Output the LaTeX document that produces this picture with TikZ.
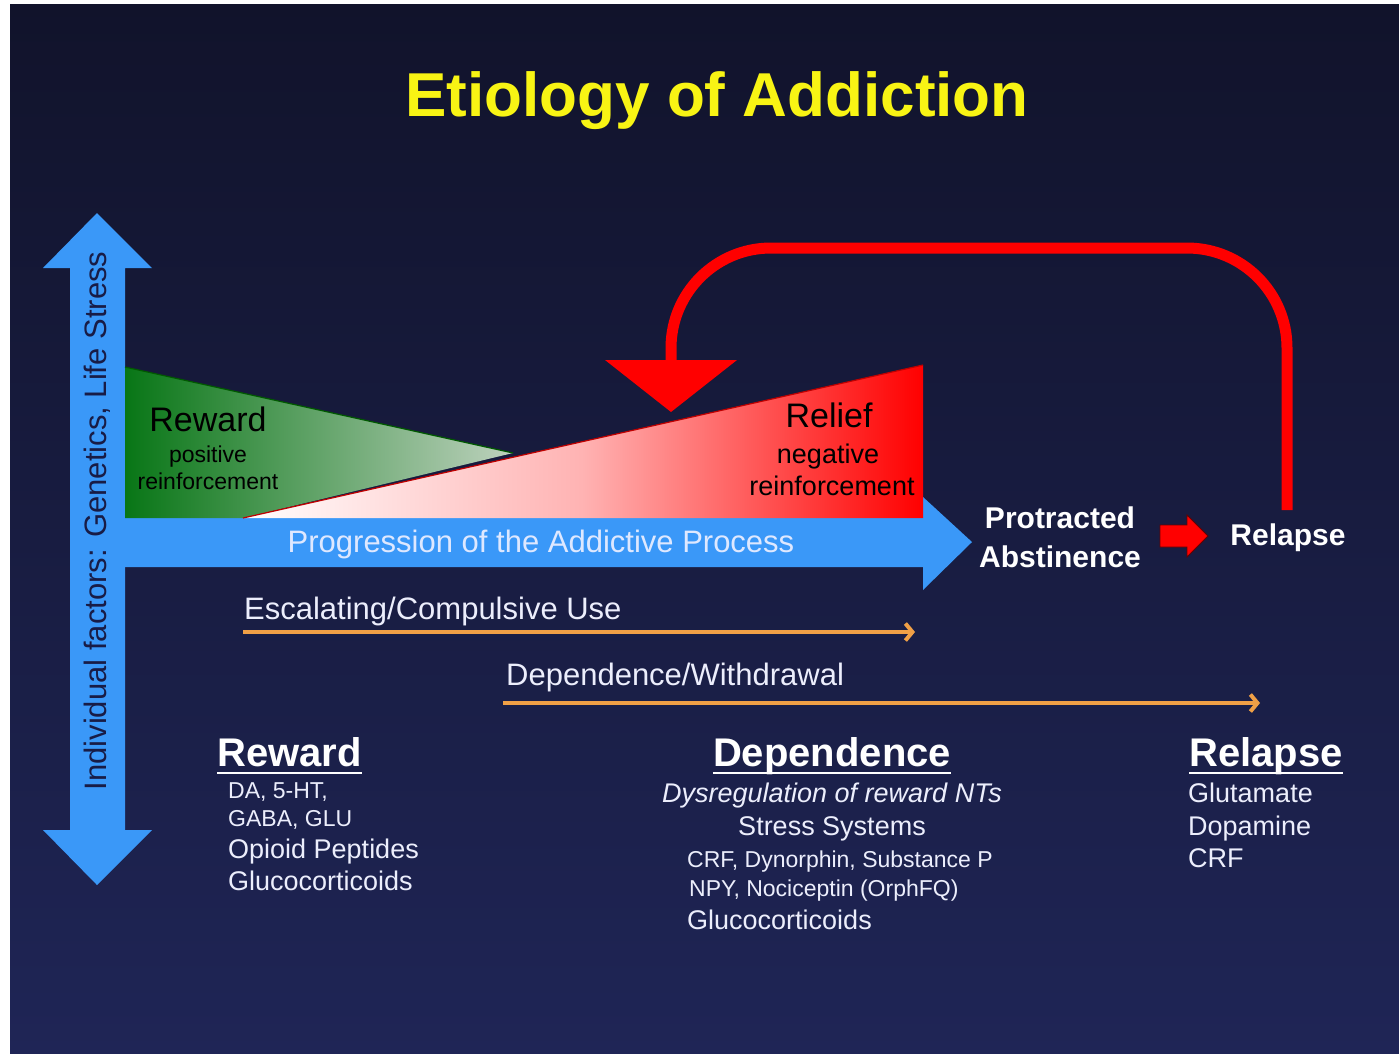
\documentclass[tikz,border=0pt]{standalone}
\usepackage{fontspec}
\setmainfont{Liberation Sans}
\usetikzlibrary{arrows.meta}

\definecolor{slidetop}{RGB}{17,19,43}
\definecolor{slidebot}{RGB}{31,37,86}
\definecolor{axisblue}{RGB}{58,152,248}
\definecolor{titleyellow}{RGB}{248,244,20}
\definecolor{orangeline}{RGB}{240,160,70}
\definecolor{paletext}{RGB}{236,238,252}
\definecolor{progtext}{RGB}{222,232,255}
\definecolor{navytext}{RGB}{24,28,70}
\definecolor{rewardgreen}{RGB}{8,118,22}
\definecolor{palegreen}{RGB}{190,210,190}
\newcommand\fsz[1]{\fontsize{#1}{#1}\selectfont}

\begin{document}
\begin{tikzpicture}[x=1pt, y=-1pt,
    lbl/.style = {inner sep=0pt, anchor=base},
    item/.style = {lbl, anchor=base west, text=paletext},
    head/.style = {lbl, anchor=base west, text=white, font=\bfseries\fsz{40}},
    headrule/.style = {draw=white, line width=2.5pt},
    growline/.style = {draw=orangeline, line width=4pt, -{Straight Barb[length=7pt,width=17pt]}},
    ]
  \useasboundingbox (0,0) rectangle (1399,1053);
  \fill[white] (0,0) rectangle (1399,1053);
  \shade[top color=slidetop, bottom color=slidebot] (10,4) rectangle (1399,1053);

  % axes
  \fill[axisblue] (70,268) -- (43,268) -- (97,213) -- (152,268) -- (125,268) -- (125,830)
    -- (152,830) -- (97,885) -- (43,830) -- (70,830) -- cycle;
  \fill[axisblue] (125,518) -- (923,518) -- (923,497) -- (972,542) -- (923,590) -- (923,567)
    -- (125,567) -- cycle;

  % reward and relief wedges
  \shade[left color=rewardgreen, right color=palegreen] (125,367) -- (513,453) -- (243,518) -- (125,518) -- cycle;
  \draw[green!35!black, line width=1.2pt] (125,367) -- (513,453);
  \shade[left color=white, right color=red, middle color=red!30!white] (243,518) -- (923,365) -- (923,518) -- cycle;
  \draw[red!75!black, line width=1.2pt] (243,518) -- (923,365);

  \node[lbl, font=\bfseries\fsz{62}, text=titleyellow] (title) at (717,116) {Etiology of Addiction};
  \node[inner sep=0pt, rotate=90, font=\fsz{31}, text=navytext] (factors) at (97,521)
    {Individual factors: Genetics, Life Stress};

  \node[lbl, font=\fsz{34}] (rwd) at (208,431) {Reward};
  \node[lbl, font=\fsz{23}] (rwd-a) at (208,462) {positive};
  \node[lbl, font=\fsz{23}] (rwd-b) at (208,489) {reinforcement};
  \node[lbl, font=\fsz{34}] (rlf) at (829,427) {Relief};
  \node[lbl, font=\fsz{27}] (rlf-a) at (828,463) {negative};
  \node[lbl, font=\fsz{27}] (rlf-b) at (832,495) {reinforcement};

  \node[lbl, font=\fsz{31}, text=progtext] (prog) at (541,552) {Progression of the Addictive Process};
  \node[lbl, font=\bfseries\fsz{30}, text=white] (prot) at (1060,528) {Protracted};
  \node[lbl, font=\bfseries\fsz{30}, text=white] (abst) at (1060,567) {Abstinence};
  \node[lbl, font=\bfseries\fsz{30}, text=white] (relapse) at (1288,545) {Relapse};
  \fill[red, draw=red!40!black, line width=0.8pt] (1160,525) -- (1187,525) -- (1187,515) -- (1208,536)
    -- (1187,557) -- (1187,547) -- (1160,547) -- cycle;

  % relapse loop
  \coordinate (loopstart) at (1287,510);
  \coordinate (loopend) at (671,362);
  \draw[red, line width=11pt, rounded corners=100pt] (loopstart) -- (1287,248) -- (671,248) -- (loopend);
  \fill[red] (605,360) -- (737,360) -- (671,412) -- cycle;

  % stages
  \node[item, font=\fsz{31}] (esc) at (244,619) {Escalating/Compulsive Use};
  \coordinate (esc-s) at (243,632);
  \coordinate (esc-e) at (915,632);
  \draw[growline] (esc-s) -- (esc-e);
  \node[item, font=\fsz{31}] (dep) at (506,685) {Dependence/Withdrawal};
  \coordinate (dep-s) at (503,703);
  \coordinate (dep-e) at (1260,703);
  \draw[growline] (dep-s) -- (dep-e);

  % neurochemistry
  \node[head] (rwdhead) at (217,766) {Reward};
  \draw[headrule] ([yshift=-7pt]rwdhead.base west) -- ([yshift=-7pt]rwdhead.base east);
  \node[item, font=\fsz{23}] (rw1) at (228,798) {DA, 5-HT,};
  \node[item, font=\fsz{23}] (rw2) at (228,826) {GABA, GLU};
  \node[item, font=\fsz{27}] (rw3) at (228,858) {Opioid Peptides};
  \node[item, font=\fsz{27}] (rw4) at (228,890) {Glucocorticoids};

  \node[head, anchor=base] (dephead) at (832,766) {Dependence};
  \draw[headrule] ([yshift=-7pt]dephead.base west) -- ([yshift=-7pt]dephead.base east);
  \node[item, anchor=base, font=\itshape\fsz{27}] (dp1) at (832,802) {Dysregulation of reward NTs};
  \node[item, anchor=base, font=\fsz{27}] (dp2) at (832,835) {Stress Systems};
  \node[item, font=\fsz{23}] (dp3) at (687,867) {CRF, Dynorphin, Substance P};
  \node[item, font=\fsz{23}] (dp4) at (689,896) {NPY, Nociceptin (OrphFQ)};
  \node[item, font=\fsz{27}] (dp5) at (687,929) {Glucocorticoids};

  \node[head] (relhead) at (1189,766) {Relapse};
  \draw[headrule] ([yshift=-7pt]relhead.base west) -- ([yshift=-7pt]relhead.base east);
  \node[item, font=\fsz{27}] (rl1) at (1188,802) {Glutamate};
  \node[item, font=\fsz{27}] (rl2) at (1188,835) {Dopamine};
  \node[item, font=\fsz{27}] (rl3) at (1188,867) {CRF};
\end{tikzpicture}
\end{document}
